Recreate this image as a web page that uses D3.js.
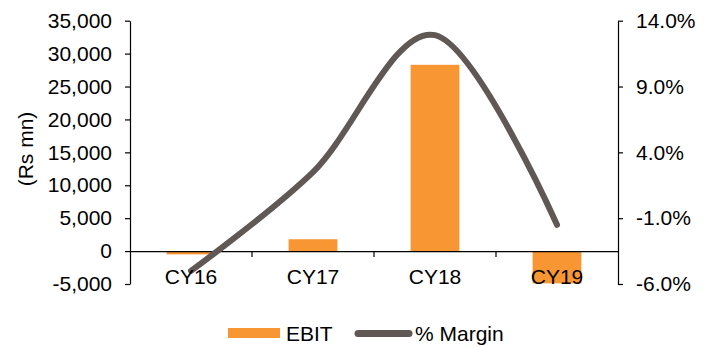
<!DOCTYPE html>
<html>
<head>
<meta charset="utf-8">
<script src="https://cdn.jsdelivr.net/npm/d3@7"></script>
<style>
  html, body { margin: 0; padding: 0; background: #fff; }
  svg text { font-family: "Liberation Sans", Arial, sans-serif; fill: #000; }
</style>
</head>
<body>
<svg id="chart" width="713" height="347"></svg>
<script>
// EBIT (Rs mn) and EBIT margin (%) by calendar year
const categories = ["CY16", "CY17", "CY18", "CY19"];
const ebit = [-500, 1800, 28300, -4900];
const margin = [-5.0, 2.5, 12.9, -1.5];
const leftTicks = [-5000, 0, 5000, 10000, 15000, 20000, 25000, 30000, 35000];
const rightTicks = [-6, -1, 4, 9, 14];

const svg = d3.select("#chart");
const plot = { left: 130, right: 618, top: 20.7, bottom: 284 };
const fontSize = 21;
const barColor = "#F79632";
const lineColor = "#5F5854";

// plain hyphen for negatives
const hy = s => s.replace("\u2212", "-");

const x = d3.scaleBand().domain(categories).range([plot.left, plot.right]).paddingInner(0).paddingOuter(0);
const yL = d3.scaleLinear().domain([-5000, 35000]).range([plot.bottom, plot.top]);
const yR = d3.scaleLinear().domain([-6, 14]).range([plot.bottom, plot.top]);

// Bars
const barW = x.bandwidth() * 0.4;
svg.append("g").selectAll("rect").data(ebit).join("rect")
  .attr("x", (d, i) => x(categories[i]) + (x.bandwidth() - barW) / 2)
  .attr("y", d => yL(Math.max(0, d)))
  .attr("width", barW)
  .attr("height", d => Math.abs(yL(d) - yL(0)))
  .attr("fill", barColor);

// Left axis
const axL = svg.append("g").attr("transform", `translate(${plot.left},0)`)
  .call(d3.axisLeft(yL).tickValues(leftTicks).tickSize(5).tickPadding(13).tickSizeOuter(0)
    .tickFormat(d => hy(d3.format(",")(d))));
// Right axis
const axR = svg.append("g").attr("transform", `translate(${plot.right},0)`)
  .call(d3.axisRight(yR).tickValues(rightTicks).tickSize(5).tickPadding(13).tickSizeOuter(0)
    .tickFormat(d => hy(d3.format(".1f")(d)) + "%"));

// Category axis along zero line
const axX = svg.append("g").attr("transform", `translate(0,${yL(0)})`)
  .call(d3.axisBottom(x).tickSize(6).tickSizeOuter(0).tickFormat(() => ""));
axX.selectAll(".tick").filter((d, i) => i === 0).remove();
axX.selectAll(".tick line").attr("transform", `translate(${-x.bandwidth() / 2},0)`);

[axL, axR, axX].forEach(a => {
  a.selectAll(".domain").attr("stroke", "#000").attr("stroke-width", 1.2);
  a.selectAll(".tick line").attr("stroke", "#000").attr("stroke-width", 1.2);
  a.selectAll("text").attr("font-size", fontSize).attr("fill", "#000")
    .attr("font-family", "'Liberation Sans', Arial, sans-serif");
});

// Margin line
const line = d3.line()
  .x((d, i) => x(categories[i]) + x.bandwidth() / 2)
  .y(d => yR(d))
  .curve(d3.curveCardinal.tension(0));
svg.append("path").datum(margin)
  .attr("d", line)
  .attr("fill", "none")
  .attr("stroke", lineColor)
  .attr("stroke-width", 6)
  .attr("stroke-linecap", "round");

// Category labels
svg.append("g").selectAll("text").data(categories).join("text")
  .attr("x", d => x(d) + x.bandwidth() / 2)
  .attr("y", 283.5)
  .attr("text-anchor", "middle")
  .attr("font-size", fontSize)
  .text(d => d);

// Y axis title
svg.append("text")
  .attr("transform", "translate(32.5,149) rotate(-90)")
  .attr("text-anchor", "middle")
  .attr("font-size", fontSize)
  .text("(Rs mn)");

// Legend
const lg = svg.append("g");
lg.append("rect").attr("x", 228).attr("y", 328).attr("width", 52).attr("height", 10).attr("fill", barColor);
lg.append("text").attr("x", 286).attr("y", 341).attr("font-size", fontSize).text("EBIT");
lg.append("line").attr("x1", 358).attr("x2", 409).attr("y1", 333.5).attr("y2", 333.5)
  .attr("stroke", lineColor).attr("stroke-width", 7).attr("stroke-linecap", "round");
lg.append("text").attr("x", 415).attr("y", 341).attr("font-size", fontSize).text("% Margin");
</script>
</body>
</html>
